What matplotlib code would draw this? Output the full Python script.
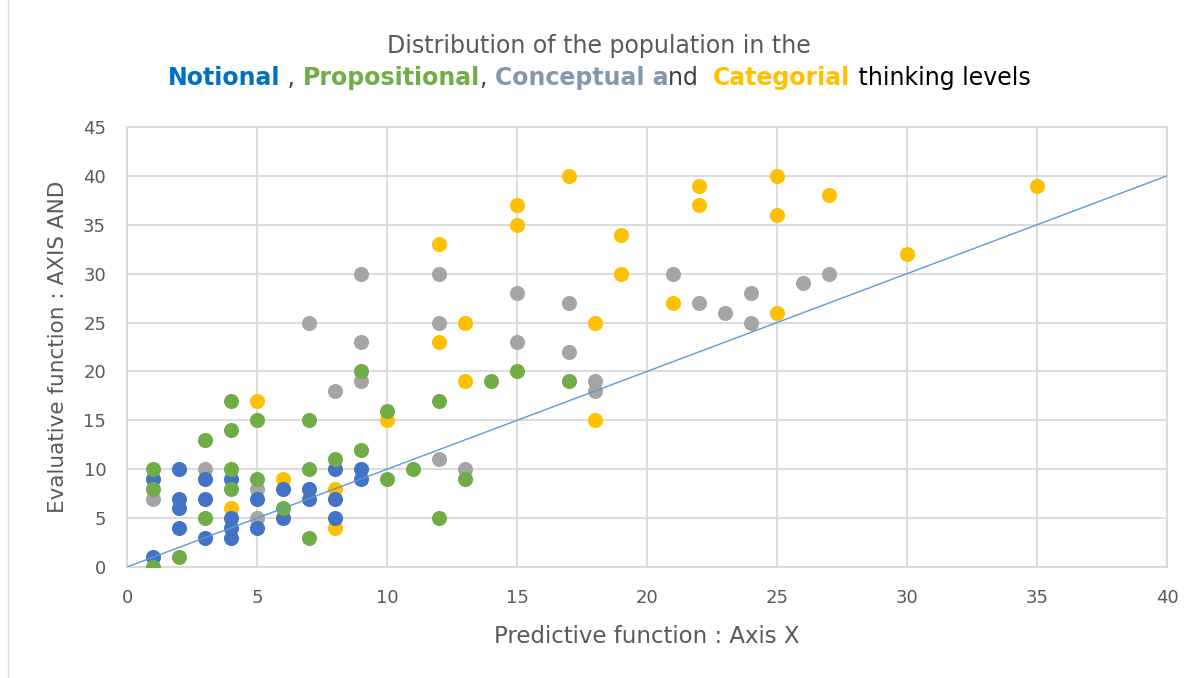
import matplotlib
matplotlib.use('Agg')
import matplotlib.pyplot as plt

# Notional (blue)
notional_x = [1, 1, 2, 2, 2, 2, 3, 3, 3, 4, 4, 4, 4, 5, 5, 6, 6, 7, 7, 8, 8, 8, 9, 9]
notional_y = [9, 1, 10, 7, 6, 4, 9, 7, 3, 9, 5, 4, 3, 7, 4, 8, 5, 8, 7, 10, 7, 5, 10, 9]

# Propositional (green)
prop_x = [1, 1, 1, 2, 3, 3, 4, 4, 4, 4, 5, 5, 6, 7, 7, 7, 8, 9, 9, 10, 10, 11, 12, 12, 13, 14, 15, 17]
prop_y = [10, 8, 0, 1, 13, 5, 17, 14, 10, 8, 15, 9, 6, 15, 10, 3, 11, 20, 12, 16, 9, 10, 17, 5, 9, 19, 20, 19]

# Conceptual (grey)
concept_x = [1, 3, 5, 5, 7, 8, 9, 9, 9, 12, 12, 12, 13, 15, 15, 17, 17, 18, 18, 21, 22, 23, 24, 24, 26, 27]
concept_y = [7, 10, 8, 5, 25, 18, 30, 23, 19, 30, 25, 11, 10, 28, 23, 27, 22, 19, 18, 30, 27, 26, 28, 25, 29, 30]

# Categorial (yellow)
categ_x = [4, 5, 6, 8, 8, 10, 12, 12, 13, 13, 15, 15, 17, 18, 18, 19, 19, 21, 22, 22, 25, 25, 25, 27, 30, 35]
categ_y = [6, 17, 9, 8, 4, 15, 33, 23, 25, 19, 37, 35, 40, 25, 15, 34, 30, 27, 39, 37, 40, 36, 26, 38, 32, 39]

line_x = [0, 40]
line_y = [0, 40]

fig = plt.figure(figsize=(11.98, 6.78), dpi=100)
ax = fig.add_axes([127 / 1198, 1 - 567 / 678, (1167 - 127) / 1198, (567 - 127) / 678])

grid_c = '#D9D9D9'
ax.set_xlim(0, 40)
ax.set_ylim(0, 45)
ax.set_xticks(range(0, 41, 5))
ax.set_yticks(range(0, 46, 5))
ax.grid(True, color=grid_c, linewidth=1.3)
ax.set_axisbelow(True)
for s in ax.spines.values():
    s.set_color(grid_c)
    s.set_linewidth(1.3)
ax.tick_params(length=0, labelsize=13, labelcolor='#595959')
ax.tick_params(axis='y', pad=15)
ax.tick_params(axis='x', pad=16)

ms = 118
ax.scatter(categ_x, categ_y, s=ms, color='#FFC000', zorder=3, linewidths=0)
ax.scatter(concept_x, concept_y, s=ms, color='#A5A5A5', zorder=4, linewidths=0)
ax.scatter(notional_x, notional_y, s=ms, color='#4472C4', zorder=5, linewidths=0)
ax.scatter(prop_x, prop_y, s=ms, color='#70AD47', zorder=6, linewidths=0)
ax.plot(line_x, line_y, color='#5B9BD5', linewidth=1, zorder=7)

ax.set_xlabel('Predictive function : Axis X', fontsize=16.5, color='#595959', labelpad=13)
ax.set_ylabel('Evaluative function : AXIS AND', fontsize=15.5, color='#595959', labelpad=11)

# title, first line
fig.text(0.5, 1 - 46 / 678, 'Distribution of the population in the', ha='center', va='center',
         fontsize=17, color='#595959')

# title, second line with coloured words
parts = [('Notional', '#0070C0', 'bold'), (' , ', '#404040', 'normal'),
         ('Propositional', '#70AD47', 'bold'), (', ', '#404040', 'normal'),
         ('Conceptual a', '#8497B0', 'bold'), ('nd  ', '#404040', 'normal'),
         ('Categorial', '#FFC000', 'bold'), (' thinking levels', '#000000', 'normal')]
fig.canvas.draw()
r = fig.canvas.get_renderer()
texts = []
widths = []
for txt, c, w in parts:
    t = fig.text(0, 1 - 78 / 678, txt, fontsize=17, color=c, fontweight=w, va='center', ha='left')
    bb = t.get_window_extent(renderer=r)
    texts.append(t)
    widths.append(bb.width)
total = sum(widths)
x0 = (1198 - total) / 2
for t, w in zip(texts, widths):
    t.set_x(x0 / 1198)
    x0 += w

fig.add_artist(plt.Line2D([8 / 1198, 8 / 1198], [0, 1], color=grid_c, linewidth=1))

fig.savefig('out.png', dpi=100)
